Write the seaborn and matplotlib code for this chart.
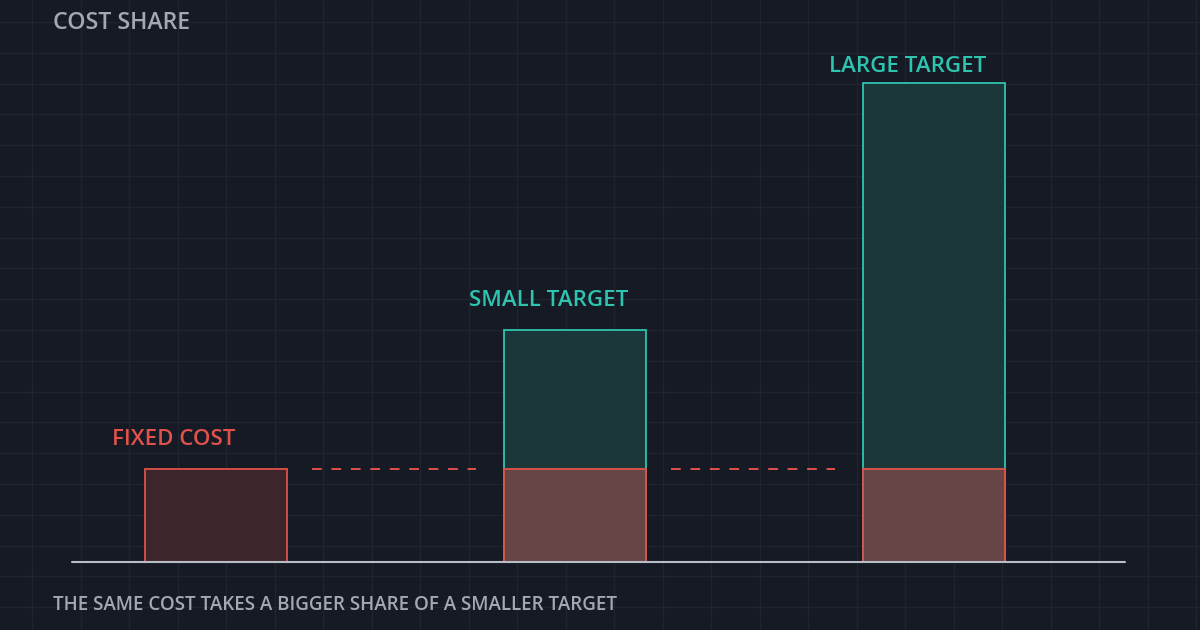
import matplotlib
matplotlib.use("Agg")
import matplotlib.pyplot as plt
import numpy as np
import pandas as pd
import seaborn as sns

# data
categories = ["FIXED COST", "SMALL TARGET", "LARGE TARGET"]
target_values = [0.0, 2.5, 5.15]
cost_values = [1.0, 1.0, 1.0]
title = "COST SHARE"
footer = "THE SAME COST TAKES A BIGGER SHARE OF A SMALLER TARGET"

BG = "#161a25"
GRID = "#20242f"
RED = "#e0524a"
TEAL = "#2ec4b0"

sns.set_theme(style="dark")
plt.rcParams["font.family"] = ["Open Sans", "DejaVu Sans"]

fig = plt.figure(figsize=(12, 6.3), dpi=100)
fig.patch.set_facecolor(BG)

# background grid in pixel coordinates
bg = fig.add_axes([0, 0, 1, 1])
bg.set_xlim(0, 1200)
bg.set_ylim(630, 0)
bg.set_facecolor(BG)
for x in np.arange(32, 1200, 48.5):
    bg.axvline(x, color=GRID, lw=1, zorder=0)
for y in np.arange(22, 630, 30.8):
    bg.axhline(y, color=GRID, lw=1, zorder=0)
bg.axis("off")

# main axes: bar centres at 0,1,2 -> px 216, 575, 934 ; baseline px 562, 93 px per unit
ax = fig.add_axes([0, 0, 1, 1])
ax.patch.set_alpha(0)
sx, sy = 359.0, 93.0

df_t = pd.DataFrame({"cat": categories, "val": target_values})
df_c = pd.DataFrame({"cat": categories, "val": cost_values})
sns.barplot(data=df_t, x="cat", y="val", hue="cat", order=categories,
            palette=["#00000000", "#173b3e", "#173b3e"], width=0.398,
            edgecolor=TEAL, linewidth=1.3, legend=False, ax=ax, zorder=2)
sns.barplot(data=df_c, x="cat", y="val", hue="cat", order=categories,
            palette=["#40222a", "#6b403f", "#6b403f"], width=0.398,
            edgecolor=RED, linewidth=1.3, legend=False, ax=ax, zorder=3)
# first target bar is empty, hide its edge
ax.patches[0].set_visible(False)
ax.set_xlim(-216 / sx, (1200 - 216) / sx)
ax.set_ylim(-(630 - 562) / sy, 562 / sy)
ax.axis("off")

# dashed connectors at cost level
for i in range(2):
    ax.plot([i + 0.268, i + 0.725], [cost_values[i], cost_values[i]],
            color=RED, lw=1.4, ls=(0, (5, 5)), zorder=3)

# baseline
ax.plot([(72 - 216) / sx, (1125 - 216) / sx], [0, 0], color="#b9bdc8", lw=1.5, zorder=4)

# labels
ax.text(-0.29, cost_values[0] + 0.2, categories[0], color=RED, fontsize=16,
        fontweight="semibold", ha="left", va="bottom")
ax.text(1 - 0.296, target_values[1] + 0.2, categories[1], color=TEAL, fontsize=16,
        fontweight="semibold", ha="left", va="bottom")
ax.text(2 - 0.292, target_values[2] + 0.07, categories[2], color=TEAL, fontsize=16,
        fontweight="semibold", ha="left", va="bottom")

fig.text(53 / 1200, 1 - 23 / 630, title, color="#a4a8b3", fontsize=16.7,
         fontweight="semibold", ha="left", va="center")
fig.text(53 / 1200, 1 - 605 / 630, footer, color="#a4a8b3", fontsize=13.5,
         fontweight="semibold", ha="left", va="center")

fig.savefig("out.png", dpi=100, facecolor=BG)
